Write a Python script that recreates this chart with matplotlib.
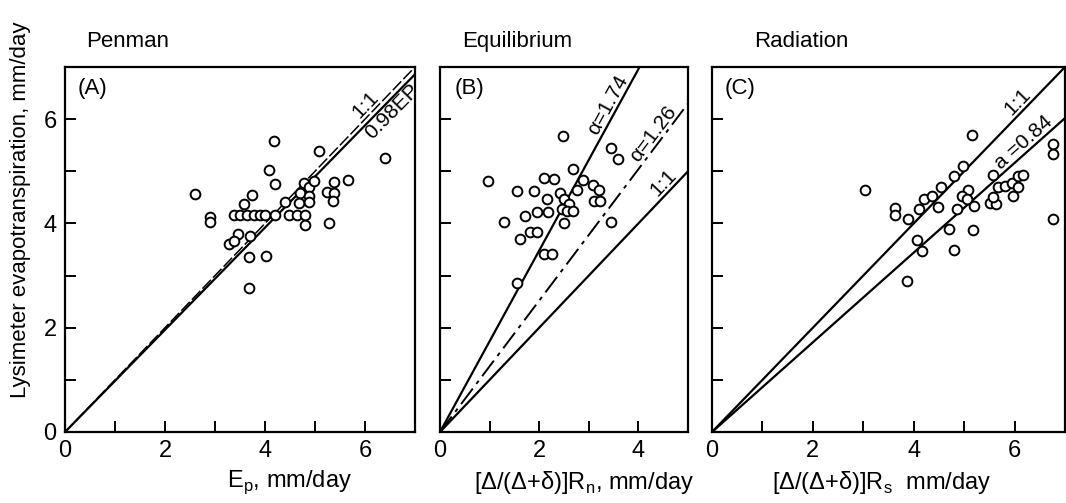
import numpy as np
import matplotlib
matplotlib.use("Agg")
from matplotlib import pyplot as plt

plt.rcParams['font.family'] = ['Liberation Sans', 'DejaVu Sans']

# Penman (A)
pen_x = [2.59, 2.9, 2.9, 4.18, 5.07, 4.08, 4.2, 3.73, 3.58,
         3.37, 3.5, 3.63, 3.77, 3.9, 4.0, 4.2,
         3.45, 3.27, 3.37, 3.7, 3.68, 4.01, 3.68, 4.4, 4.47,
         4.77, 4.7, 4.87, 4.87, 4.67, 4.87, 4.63, 4.79, 4.8, 4.97,
         5.23, 5.37, 5.37, 5.35, 5.27, 5.65, 6.4]
pen_y = [4.56, 4.13, 4.03, 5.58, 5.39, 5.02, 4.75, 4.54, 4.38,
         4.17, 4.17, 4.17, 4.17, 4.17, 4.17, 4.17,
         3.79, 3.6, 3.66, 3.76, 3.36, 3.37, 2.76, 4.41, 4.17,
         4.78, 4.59, 4.69, 4.53, 4.4, 4.41, 4.17, 4.17, 3.97, 4.81,
         4.61, 4.79, 4.59, 4.43, 4.0, 4.83, 5.25]

# Equilibrium (B)
equ_x = [0.96, 2.48, 3.45, 3.58, 2.69, 2.1, 2.3, 1.56, 1.89, 2.42,
         2.76, 2.88, 3.08, 3.2, 3.11, 3.23, 2.15, 2.49, 2.61, 2.46,
         2.56, 2.69, 1.95, 2.17, 1.72, 1.29, 2.49, 3.45, 1.82, 1.62,
         1.95, 2.1, 2.26, 1.55]
equ_y = [4.81, 5.67, 5.44, 5.24, 5.04, 4.88, 4.85, 4.62, 4.62, 4.59,
         4.65, 4.83, 4.73, 4.65, 4.43, 4.43, 4.46, 4.46, 4.38, 4.27,
         4.24, 4.24, 4.22, 4.21, 4.14, 4.03, 4.0, 4.03, 3.83, 3.71,
         3.83, 3.42, 3.42, 2.85]

# Radiation (C)
rad_x = [3.03, 3.63, 3.63, 3.88, 4.06, 4.17, 3.86, 4.1, 4.2, 4.37,
         4.49, 4.55, 4.79, 4.98, 5.16, 5.08, 4.95, 5.05, 4.85, 5.2,
         4.69, 5.18, 4.79, 5.58, 5.51, 5.63, 5.57, 5.68, 5.81, 5.94,
         6.07, 6.17, 6.07, 5.97, 6.77, 6.77, 6.77]
rad_y = [4.65, 4.3, 4.17, 4.08, 3.69, 3.48, 2.89, 4.27, 4.46, 4.53,
         4.32, 4.7, 4.91, 5.1, 5.69, 4.65, 4.53, 4.46, 4.27, 4.33,
         3.9, 3.88, 3.5, 4.92, 4.4, 4.38, 4.51, 4.69, 4.72, 4.78,
         4.91, 4.92, 4.69, 4.53, 5.52, 5.33, 4.09]

pen_slope = 0.98
equ_slopes = [1.74, 1.26, 1.0]
rad_slope = 0.86

W, H = 1066, 503
fig = plt.figure(figsize=(W / 100, H / 100), dpi=100)


def make_ax(l, r, t, b, xmax):
    ax = fig.add_axes([l / W, 1 - b / H, (r - l) / W, (b - t) / H])
    ax.set_xlim(0, xmax)
    ax.set_ylim(0, 7)
    ax.set_xticks(range(0, xmax))
    ax.set_xticklabels([str(v) if v % 2 == 0 else '' for v in range(0, xmax)])
    ax.set_yticks(range(0, 7))
    ax.tick_params(direction='in', length=8, width=1.4, labelsize=17, pad=6)
    for s in ax.spines.values():
        s.set_linewidth(1.6)
    return ax


def circles(ax, x, y):
    ax.plot(x, y, 'o', ms=7, mfc='white', mec='black', mew=1.4, zorder=3)


def line_label(ax, x, slope, txt, va='bottom', size=15):
    # x is on the line, text sits just above (or below) it
    ax.text(x, slope * x, txt, fontsize=size, rotation=np.degrees(np.arctan(slope)),
            transform_rotates_text=True, rotation_mode='anchor',
            ha='center', va=va, clip_on=False)


t = np.array([0, 10])

# (A) Penman
axA = make_ax(65, 415, 67, 432, 7)
axA.set_yticklabels([str(v) if v % 2 == 0 else '' for v in range(0, 7)])
axA.plot(t, t, color='black', lw=1.1, ls=(0, (8, 2)))
axA.plot(t, pen_slope * t, color='black', lw=1.6)
circles(axA, pen_x, pen_y)
line_label(axA, 6.15, 1.0, '1:1')
line_label(axA, 6.4, pen_slope, '0.98EP', va='top')
axA.text(0.035, 0.94, '(A)', transform=axA.transAxes, fontsize=16, va='center')
axA.text(0.06, 1.04, 'Penman', transform=axA.transAxes, fontsize=16, va='bottom')
axA.set_xlabel('E$_\\mathregular{p}$, mm/day', fontsize=17)
axA.xaxis.set_label_coords(0.64, -0.1)

# (B) Equilibrium
axB = make_ax(440, 688, 67, 432, 5)
axB.set_yticklabels([])
axB.plot(t, equ_slopes[0] * t, color='black', lw=1.6)
axB.plot(t, equ_slopes[1] * t, color='black', lw=1.4, ls=(0, (10, 3, 2, 3)))
axB.plot(t, equ_slopes[2] * t, color='black', lw=1.6)
circles(axB, equ_x, equ_y)
line_label(axB, 3.55, equ_slopes[0], 'α=1.74')
line_label(axB, 4.45, equ_slopes[1], 'α=1.26')
line_label(axB, 4.65, equ_slopes[2], '1:1')
axB.text(0.06, 0.94, '(B)', transform=axB.transAxes, fontsize=16, va='center')
axB.text(0.09, 1.04, 'Equilibrium', transform=axB.transAxes, fontsize=16, va='bottom')
axB.set_xlabel('[Δ/(Δ+δ)]R$_\\mathregular{n}$, mm/day', fontsize=17)
axB.xaxis.set_label_coords(0.58, -0.1)

# (C) Radiation
axC = make_ax(712, 1065, 67, 432, 7)
axC.set_yticklabels([])
axC.plot(t, t, color='black', lw=1.6)
axC.plot(t, rad_slope * t, color='black', lw=1.6)
circles(axC, rad_x, rad_y)
line_label(axC, 6.2, 1.0, '1:1')
line_label(axC, 6.3, rad_slope, 'a =0.84')
axC.text(0.035, 0.94, '(C)', transform=axC.transAxes, fontsize=16, va='center')
axC.text(0.12, 1.04, 'Radiation', transform=axC.transAxes, fontsize=16, va='bottom')
axC.set_xlabel('[Δ/(Δ+δ)]R$_\\mathregular{s}$  mm/day', fontsize=17)
axC.xaxis.set_label_coords(0.48, -0.1)

fig.text(21 / W, 1 - 210 / H, 'Lysimeter evapotranspiration, mm/day', rotation=90,
         fontsize=16, ha='center', va='center')

fig.savefig('out.png', dpi=100)
